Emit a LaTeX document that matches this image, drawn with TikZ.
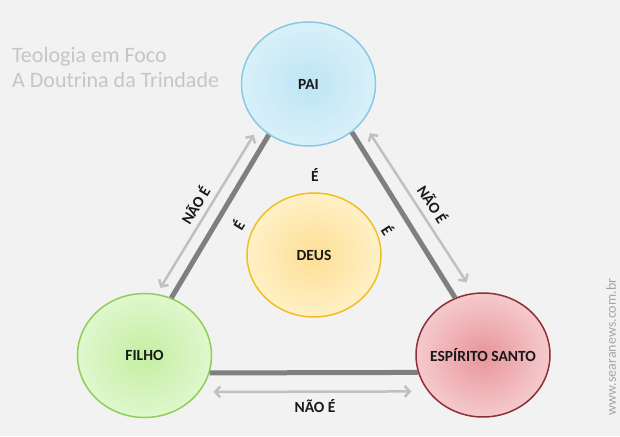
\documentclass[tikz,border=0pt]{standalone}
\usepackage{fontspec}
\setmainfont{Carlito}
\usepackage{xcolor}
\usetikzlibrary{calc, positioning, arrows.meta, shapes.geometric}

\definecolor{fundo}{HTML}{F2F2F2}
\definecolor{cinzaclaro}{HTML}{C6C6C6}
\definecolor{marca}{HTML}{A6A6A6}
\definecolor{linha}{HTML}{7F7F7F}
\definecolor{seta}{HTML}{C0C0C0}
\definecolor{paiborda}{HTML}{86CBE3}
\definecolor{paicentro}{HTML}{BDE5F4}
\definecolor{paifora}{HTML}{D9F0F9}
\definecolor{deusborda}{HTML}{F0C020}
\definecolor{deuscentro}{HTML}{FDDF95}
\definecolor{deusfora}{HTML}{FFF0C6}
\definecolor{filhoborda}{HTML}{8FCF58}
\definecolor{filhocentro}{HTML}{C4EFA2}
\definecolor{filhofora}{HTML}{DFF7CD}
\definecolor{espborda}{HTML}{8E2F35}
\definecolor{espcentro}{HTML}{E8959B}
\definecolor{espfora}{HTML}{F5CACD}

\tikzset{
    trindade/.style={
        x=1pt, y=1pt,
        >={Straight Barb[length=5pt,width=11pt]},
        pessoa/.style={ellipse, draw, line width=1.5pt, inner ysep=0pt, inner xsep=-25pt, minimum width=134pt, minimum height=124pt, font=\fontsize{15.5}{18}\selectfont\bfseries, text=black!90},
        elo/.style={line width=5pt, draw=linha},
        negacao/.style={<->, line width=2.5pt, draw=seta},
        rotulo/.style={font=\fontsize{15.5}{18}\selectfont\bfseries, text=black!90, inner sep=1pt},
        titulo/.style={anchor=base west, font=\fontsize{22}{25}\selectfont, text=cinzaclaro, inner sep=0pt}
    }
}

\begin{document}
\begin{tikzpicture}[trindade]
        % Background
        \fill[fundo] (0,0) rectangle (620,436);
        \useasboundingbox (0,0) rectangle (620,436);

        % Title
        \node[titulo] (titulo1) at (12,373) {Teologia em Foco};
        \node[titulo] (titulo2) at (12,348) {A Doutrina da Trindade};

        % Persons
        \node[pessoa, draw=paiborda, inner color=paicentro, outer color=paifora] (pai) at (308.5,352) {PAI};
        \node[pessoa, draw=deusborda, inner color=deuscentro, outer color=deusfora] (deus) at (314,181) {DEUS};
        \node[pessoa, draw=filhoborda, inner color=filhocentro, outer color=filhofora] (filho) at (144.5,80.5) {FILHO};
        \node[pessoa, draw=espborda, inner color=espcentro, outer color=espfora] (espirito) at (483,81) {ESPÍRITO SANTO};

        % Links
        \draw[elo] (pai.232) -- (filho.65);
        \draw[elo] (pai.312) -- (espirito.116);
        \draw[elo] (filho.345) -- (espirito.195);

        % Arrows
        \draw[negacao] ([shift={(-15,0)}]pai.232) -- ([shift={(-11,10)}]filho.65);
        \draw[negacao] ([shift={(18,-1)}]pai.312) -- ([shift={(11.5,15.5)}]espirito.116);
        \draw[negacao] ([shift={(4,-19)}]filho.345) -- ([shift={(-6.5,-19)}]espirito.195);

        % Labels
        \node[rotulo, rotate=58.5] (naofilho) at (195,231) {NÃO É};
        \node[rotulo, rotate=-57] (naoesp) at (433,232) {NÃO É};
        \node[rotulo] (naobase) at (315,30) {NÃO É};
        \node[rotulo] (epai) at (315,261) {É};
        \node[rotulo, rotate=58] (efilho) at (238,211) {É};
        \node[rotulo, rotate=-57] (eesp) at (388,206) {É};

        \node[rotate=90, font=\fontsize{14}{16}\selectfont, text=marca] (site) at (611,89) {www.searanews.com.br};

    \end{tikzpicture}
\end{document}
